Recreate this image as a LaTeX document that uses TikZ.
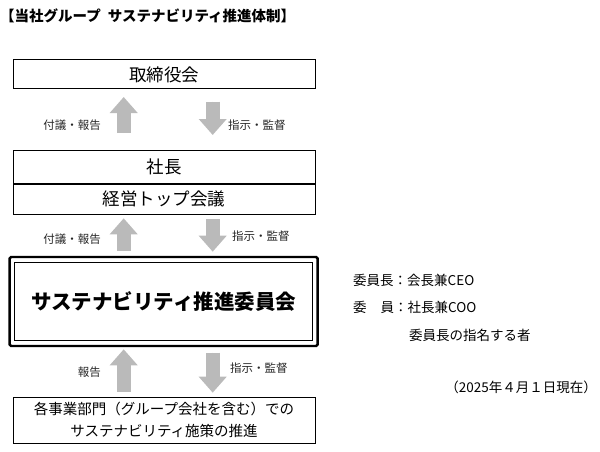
\documentclass[tikz,border=0pt]{standalone}
\usepackage{fontspec}
\setmainfont{Noto Sans CJK JP}
\usetikzlibrary{arrows.meta}
\tikzset{
  box/.style={draw, line width=1pt, minimum width=302pt, inner sep=0pt, font=\fontsize{17.5}{19}\selectfont},
  flow/.style={draw=black!27, fill=black!27, line width=14pt, -{Triangle[width=27pt,length=16pt]}},
  lbl/.style={font=\fontsize{11.5}{13}\selectfont, text=black!85, inner sep=0pt},
  side/.style={font=\fontsize{13.5}{15}\selectfont, inner sep=0pt, anchor=west},
}
\begin{document}
\begin{tikzpicture}[x=1pt,y=-1pt]
\useasboundingbox (0,0) rectangle (600,452);
\node[anchor=west, inner sep=0pt, font=\fontsize{14.5}{16}\selectfont\bfseries] (title) at (0,16) {【当社グループ\hspace{7pt}サステナビリティ推進体制】};

\node[box, minimum height=29pt] (board) at (164,74.5) {取締役会};
\node[box, minimum height=33pt] (pres) at (164,166.5) {社長};
\node[box, minimum height=30pt, anchor=north] (top) at (pres.south) {経営トップ会議};

% committee
\node[draw, line width=2.4pt, rounded corners=1.5pt, minimum width=308pt, minimum height=89pt, inner sep=0pt] (comm) at (163.6,301.5) {};
\node[draw, line width=1.3pt, minimum width=298pt, minimum height=78pt, inner sep=0pt, font=\fontsize{20.5}{24}\selectfont\bfseries] (commin) at (comm.center) {サステナビリティ推進委員会};

\node[box, minimum height=46pt, align=center, font=\fontsize{14.5}{22}\selectfont] (div) at (164,420) {各事業部門（グループ会社を含む）での\\サステナビリティ施策の推進};

% arrow coordinates
\coordinate (u1s) at (123.7,133); \coordinate (u1e) at (123.7,97);
\coordinate (d1s) at (212.7,101.5); \coordinate (d1e) at (212.7,135);
\coordinate (u2s) at (123.7,251); \coordinate (u2e) at (123.7,218.3);
\coordinate (d2s) at (212.7,219); \coordinate (d2e) at (212.7,251.7);
\coordinate (u3s) at (123.7,391.7); \coordinate (u3e) at (123.7,349.3);
\coordinate (d3s) at (212.7,352.7); \coordinate (d3e) at (212.7,392.7);
\draw[flow] (u1s) -- (u1e);
\draw[flow] (d1s) -- (d1e);
\draw[flow] (u2s) -- (u2e);
\draw[flow] (d2s) -- (d2e);
\draw[flow] (u3s) -- (u3e);
\draw[flow] (d3s) -- (d3e);

\node[lbl, anchor=east] (l1) at (101,125) {付議・報告};
\node[lbl, anchor=west] (r1) at (228,125) {指示・監督};
\node[lbl, anchor=east] (l2) at (101,239) {付議・報告};
\node[lbl, anchor=west] (r2) at (232,236) {指示・監督};
\node[lbl, anchor=east] (l3) at (101,372) {報告};
\node[lbl, anchor=west] (r3) at (230,368) {指示・監督};

\node[side] (s1) at (353,280) {委員長：会長兼CEO};
\node[side] (s2) at (353,307) {委\hspace{14pt}員：社長兼COO};
\node[side] (s3) at (409,335) {委員長の指名する者};
\node[side, anchor=east] (s4) at (597,387) {（2025年４月１日現在）};
\end{tikzpicture}
\end{document}
